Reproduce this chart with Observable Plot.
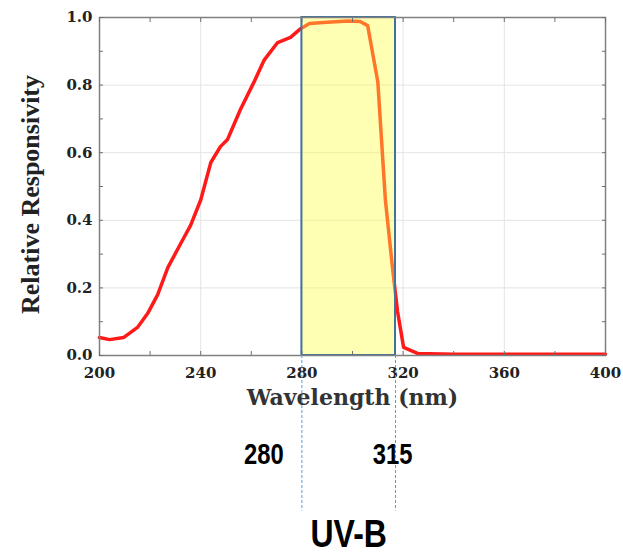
<!DOCTYPE html>
<html>
<head>
<meta charset="utf-8">
<script src="https://cdn.jsdelivr.net/npm/d3@7"></script>
<script src="https://cdn.jsdelivr.net/npm/@observablehq/plot@0.6"></script>
<style>
  html, body { margin: 0; padding: 0; background: #fff; }
  #chart { width: 623px; height: 553px; }
</style>
</head>
<body>
<div id="chart"></div>
<script>
// Wavelength (nm) and relative responsivity
const wavelength = [200, 204, 209.5, 215, 219, 223, 227, 232, 236, 240, 244, 247.8, 250.6, 255.7, 261, 265, 270.4, 275.5, 279.5, 283, 288.5, 298, 303, 306, 310, 313, 315.8, 317.8, 320.2, 325.7, 340, 360, 380, 400];
const responsivity = [0.053, 0.047, 0.053, 0.083, 0.124, 0.18, 0.26, 0.33, 0.385, 0.46, 0.571, 0.618, 0.639, 0.728, 0.808, 0.873, 0.926, 0.941, 0.967, 0.982, 0.985, 0.99, 0.988, 0.976, 0.81, 0.46, 0.26, 0.13, 0.024, 0.006, 0.004, 0.004, 0.004, 0.004];

// UV-B band
const bandStart = [280];
const bandEnd = [317];
const bandLabels = ["280", "315"];
const bandName = ["UV-B"];

// Axes
const xMajorTicks = [200, 240, 280, 320, 360, 400];
const xMinorTicks = [200, 220, 240, 260, 280, 300, 320, 340, 360, 380, 400];
const yMajorTicks = [0, 0.2, 0.4, 0.6, 0.8, 1.0];
const yMinorTicks = [0, 0.1, 0.2, 0.3, 0.4, 0.5, 0.6, 0.7, 0.8, 0.9, 1.0];
const xTitle = ["Wavelength (nm)"];
const yTitle = ["Relative Responsivity"];

const curve = wavelength.map((w, i) => ({w, r: responsivity[i]}));
const band = bandStart.map((s, i) => ({x1: s, x2: bandEnd[i]}));
const edges = [bandStart[0], bandEnd[0]];
const guideDepth = -0.46; // how far the dashed guides reach below the axis (in y units)

const serif = "DejaVu Serif, Liberation Serif, serif";
const sans = "Liberation Sans, Arial, sans-serif";
const labelStyle = {fontFamily: sans, fontWeight: "bold", fontSize: 29, fill: "#000", frameAnchor: "bottom", dy: 108, className: "narrow"};

const chart = Plot.plot({
  width: 623,
  height: 553,
  marginLeft: 99,
  marginRight: 18,
  marginTop: 17,
  marginBottom: 198,
  style: {background: "#fff", overflow: "visible"},
  x: {domain: [200, 400]},
  y: {domain: [0, 1]},
  marks: [
    Plot.gridX(xMajorTicks, {stroke: "#e4e4e4", strokeOpacity: 1}),
    Plot.gridY(yMajorTicks, {stroke: "#e4e4e4", strokeOpacity: 1}),
    Plot.line(curve, {x: "w", y: "r", stroke: "#ff1a1a", strokeWidth: 3.5, strokeLinejoin: "round"}),
    Plot.rect(band, {x1: "x1", x2: "x2", y1: 0, y2: 1, fill: "#ffff40", fillOpacity: 0.4}),
    Plot.rect(band, {x1: "x1", x2: "x2", y1: 0, y2: 1, fill: "none", stroke: "#41719c", strokeWidth: 2}),
    Plot.frame({stroke: "#808080", strokeWidth: 1.5}),
    // inward ticks on all four sides
    Plot.axisX(xMinorTicks, {anchor: "bottom", tickSize: -4, text: null, stroke: "#707070", label: null}),
    Plot.axisX(xMinorTicks, {anchor: "top", tickSize: -4, text: null, stroke: "#707070", label: null}),
    Plot.axisY(yMinorTicks, {anchor: "left", tickSize: -4, text: null, stroke: "#707070", label: null}),
    Plot.axisY(yMinorTicks, {anchor: "right", tickSize: -4, text: null, stroke: "#707070", label: null}),
    // tick labels
    Plot.axisX(xMajorTicks, {anchor: "bottom", tickSize: 0, tickPadding: 12, label: null,
      fontFamily: serif, fontWeight: "bold", fontSize: 15, fill: "#222", tickFormat: d => String(d)}),
    Plot.axisY(yMajorTicks, {anchor: "left", tickSize: 0, tickPadding: 7, label: null,
      fontFamily: serif, fontWeight: "bold", fontSize: 15, fill: "#222", tickFormat: d => d.toFixed(1)}),
    // axis titles
    Plot.text(xTitle, {frameAnchor: "bottom", dy: 49, text: d => d, fontFamily: serif, fontWeight: "bold", fontSize: 22, fill: "#333"}),
    Plot.text(yTitle, {frameAnchor: "left", textAnchor: "middle", dx: -69, dy: 8, rotate: -90, text: d => d,
      fontFamily: "Liberation Serif, serif", fontWeight: "bold", fontSize: 26, fill: "#222"}),
    // UV-B annotation
    Plot.ruleX(edges, {x: d => d, y1: 0, y2: guideDepth, stroke: "#5b9bd5", strokeWidth: 1, strokeDasharray: "3,2", clip: false}),
    Plot.text([bandLabels[0]], {...labelStyle, x: () => edges[0], text: d => d, dx: -38}),
    Plot.text([bandLabels[1]], {...labelStyle, x: () => edges[1], text: d => d, dx: -3}),
    Plot.text(bandName, {x: () => (bandStart[0] + bandEnd[0]) / 2, text: d => d, frameAnchor: "bottom", dy: 191,
      fontFamily: sans, fontWeight: "bold", fontSize: 39, fill: "#000", className: "narrow"})
  ]
});
document.getElementById("chart").appendChild(chart);
// condense the annotation lettering (narrow sans look)
d3.select(chart).selectAll(".narrow text").each(function () {
  const w = this.getComputedTextLength();
  d3.select(this).attr("textLength", w * 0.82).attr("lengthAdjust", "spacingAndGlyphs");
});
</script>
</body>
</html>
